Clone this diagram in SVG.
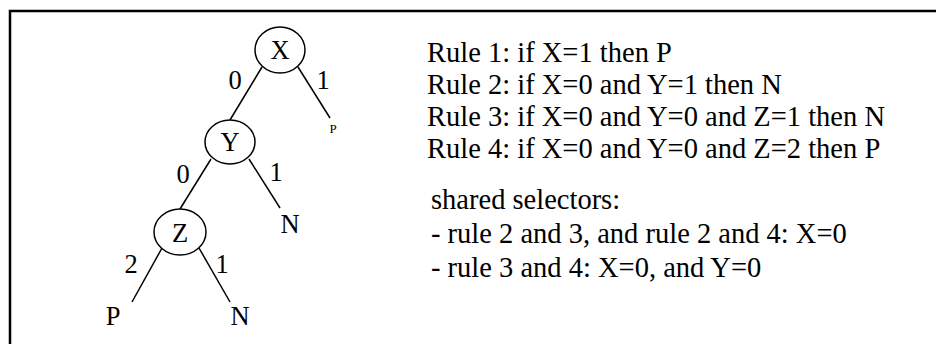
<svg xmlns="http://www.w3.org/2000/svg" width="936" height="344" viewBox="0 0 936 344">
<style>
  .t { font-family: "Liberation Serif", "Times New Roman", serif; fill: #000; }
  .lbl { font-size: 26.5px; text-anchor: middle; }
  .rule { font-size: 28.5px; }
  .node ellipse { fill: #fff; stroke: #000; stroke-width: 1.5; }
  .edge { stroke: #000; stroke-width: 1.5; fill: none; }
</style>
<rect width="936" height="344" fill="#fff"/>
<path d="M10,344 V11 H936" fill="none" stroke="#000" stroke-width="2.5"/>
<g id="connectors">
  <line class="edge" x1="262" y1="67" x2="230" y2="120"/>
  <line class="edge" x1="298" y1="67" x2="330" y2="118"/>
  <line class="edge" x1="211" y1="159" x2="180" y2="209"/>
  <line class="edge" x1="249" y1="159" x2="280" y2="208"/>
  <line class="edge" x1="162" y1="248" x2="132" y2="302"/>
  <line class="edge" x1="199" y1="248" x2="230" y2="302"/>
  <text class="t lbl" x="235" y="89">0</text>
  <text class="t lbl" x="323" y="89">1</text>
  <text class="t lbl" x="183" y="183">0</text>
  <text class="t lbl" x="276" y="181">1</text>
  <text class="t lbl" x="131" y="273">2</text>
  <text class="t lbl" x="222" y="273">1</text>
</g>
<g id="node-x" class="node">
  <ellipse cx="280" cy="50" rx="25" ry="23"/>
  <text class="t lbl" x="280" y="59">X</text>
</g>
<g id="node-y" class="node">
  <ellipse cx="230" cy="142" rx="25" ry="22"/>
  <text class="t lbl" x="230" y="151">Y</text>
</g>
<g id="node-z" class="node">
  <ellipse cx="180" cy="232" rx="26" ry="23"/>
  <text class="t lbl" x="180" y="242">Z</text>
</g>
<g id="leaf-p1"><text class="t" x="333" y="133" font-size="13" text-anchor="middle">P</text></g>
<g id="leaf-n1"><text class="t lbl" x="290" y="233">N</text></g>
<g id="leaf-p2"><text class="t lbl" x="113" y="325">P</text></g>
<g id="leaf-n2"><text class="t lbl" x="240" y="325">N</text></g>
<g id="rules">
  <text class="t rule" x="427" y="62">Rule 1: if X=1 then P</text>
  <text class="t rule" x="427" y="94">Rule 2: if X=0 and Y=1 then N</text>
  <text class="t rule" x="427" y="126">Rule 3: if X=0 and Y=0 and Z=1 then N</text>
  <text class="t rule" x="427" y="158">Rule 4: if X=0 and Y=0 and Z=2 then P</text>
</g>
<g id="shared">
  <text class="t rule" x="431" y="209">shared selectors:</text>
  <text class="t rule" x="431" y="243">- rule 2 and 3, and rule 2 and 4: X=0</text>
  <text class="t rule" x="431" y="277">- rule 3 and 4: X=0, and Y=0</text>
</g>
</svg>
